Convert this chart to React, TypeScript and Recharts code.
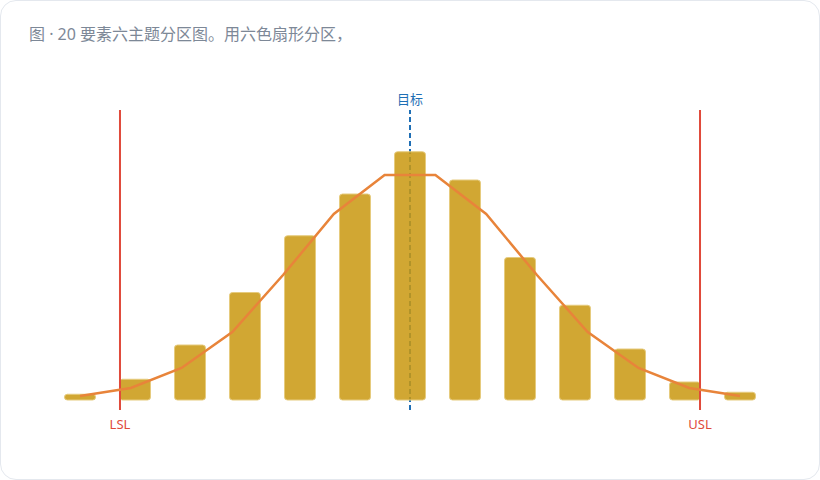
import * as React from 'react';
import { ComposedChart, Bar, Line, XAxis, YAxis, ReferenceLine } from 'recharts';

// histogram bins (index) and counts
const binIndex = [0, 1, 2, 3, 4, 5, 6, 7, 8, 9, 10, 11, 12];
const binCounts = [2.3, 8.3, 22, 43, 65.7, 82.4, 99.3, 88, 57, 37.9, 20.4, 7.2, 3.1];

// fitted curve, sampled on its own grid
const fitX = [0, 0.923, 1.846, 2.769, 3.692, 4.615, 5.538, 6.462, 7.385, 8.308, 9.231, 10.154, 11.077, 12];
const fitY = [1.6, 4.8, 12.8, 27.2, 50, 74.4, 90, 90, 74.4, 50, 27.2, 12.8, 4.8, 1.6];

const LSL = 0.727;
const USL = 11.273;
const TARGET = 6;

const TITLE = '图 · 20 要素六主题分区图。用六色扇形分区，';

const FONT = '"Noto Sans", "Noto Sans CJK SC", sans-serif';

const barData = binIndex.map((x, i) => ({ x, count: binCounts[i] }));
const fitData = fitX.map((x, i) => ({ x, fit: fitY[i] }));

export default function App() {
  React.useEffect(() => {
    document.body.style.margin = '0';
  }, []);

  return (
    <div
      style={{
        position: 'absolute', left: 0, top: 0, width: 820, height: 480,
        boxSizing: 'border-box', border: '1px solid #e4e8ee', borderRadius: 16,
        background: '#fff', fontFamily: FONT, overflow: 'hidden',
      }}
    >
      <div style={{ position: 'absolute', left: 28, top: 22, fontSize: 16, color: '#7d8897', lineHeight: '22px' }}>
        {TITLE}
      </div>
      <div style={{ position: 'absolute', left: -1, top: -1 }}>
        <ComposedChart
          width={820}
          height={480}
          data={barData}
          margin={{ top: 110, right: 52.5, bottom: 70, left: 52.5 }}
          style={{ fontFamily: FONT }}
        >
          <XAxis xAxisId="bins" dataKey="x" type="number" domain={[-0.5, 12.5]} hide />
          <XAxis xAxisId="fit" dataKey="x" type="number" domain={[-0.5, 12.5]} hide />
          <YAxis type="number" domain={[-4, 116]} hide allowDataOverflow />
          <ReferenceLine
            xAxisId="bins"
            x={TARGET}
            zIndex={100}
            stroke="#1f6fb5"
            strokeWidth={2}
            strokeDasharray="5 3"
            label={{ value: '目标', position: 'top', offset: 6, fill: '#1f6fb5', fontSize: 13 }}
          />
          <Bar
            xAxisId="bins"
            dataKey="count"
            barSize={31}
            fill="#ca9812"
            fillOpacity={0.86}
            stroke="#e6cb7e"
            strokeWidth={1}
            radius={3}
            isAnimationActive={false}
          />
          <ReferenceLine
            xAxisId="bins"
            x={LSL}
            stroke="#e04a3b"
            strokeWidth={2}
            label={{ value: 'LSL', position: 'bottom', offset: 10, fill: '#e04a3b', fontSize: 13 }}
          />
          <ReferenceLine
            xAxisId="bins"
            x={USL}
            stroke="#e04a3b"
            strokeWidth={2}
            label={{ value: 'USL', position: 'bottom', offset: 10, fill: '#e04a3b', fontSize: 13 }}
          />
          <Line
            xAxisId="fit"
            data={fitData}
            dataKey="fit"
            type="linear"
            stroke="#e8843a"
            strokeWidth={2.5}
            dot={false}
            activeDot={false}
            isAnimationActive={false}
          />
        </ComposedChart>
      </div>
    </div>
  );
}
